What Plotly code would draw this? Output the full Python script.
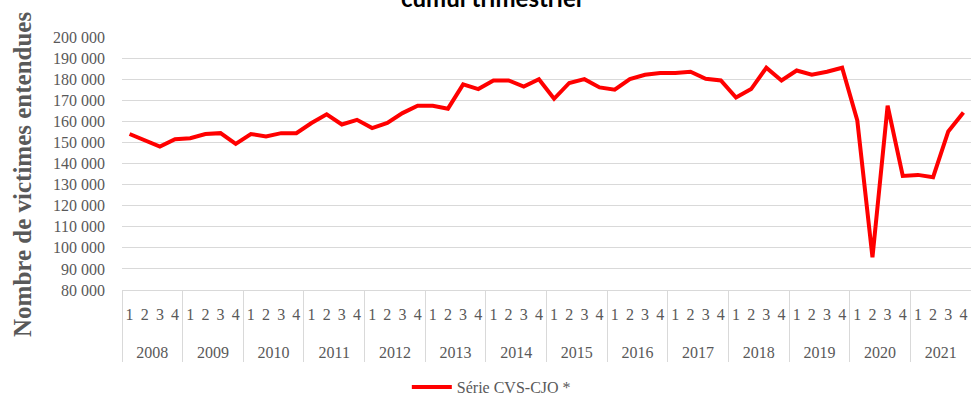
import plotly.graph_objects as go

years = [str(y) for y in range(2008, 2022)]
quarters = ["1", "2", "3", "4"]
values = [
    154000, 151000, 148000, 151500,   # 2008
    152000, 154000, 154400, 149300,   # 2009
    154000, 152800, 154400, 154400,   # 2010
    159200, 163300, 158500, 160700,   # 2011
    156800, 159200, 163900, 167400,   # 2012
    167400, 166000, 177500, 175300,   # 2013
    179400, 179400, 176500, 180000,   # 2014
    170700, 178200, 180000, 176100,   # 2015
    175000, 180000, 182100, 182900,   # 2016
    182900, 183500, 180200, 179400,   # 2017
    171300, 175300, 185400, 179400,   # 2018
    184100, 182100, 183500, 185400,   # 2019
    160400, 95500, 167400, 134100,    # 2020
    134600, 133500, 155200, 164200,   # 2021
]
series_name = "Série CVS-CJO *"
title_text = "cumul trimestriel"
y_title = "Nombre de victimes entendues"

# spacer spans only enlarge the first label row's box so the year row sits lower
pad = "<span style='font-size:22px'>\u00a0</span>"
x_years = ["<br>" + y for y in years for _ in quarters]
x_quarters = [pad + q + pad for _ in years for q in quarters]

serif = "Liberation Serif"
grey = "#595959"
grid = "#d9d9d9"

fig = go.Figure()
fig.add_trace(go.Scatter(
    x=[x_years, x_quarters],
    y=values,
    mode="lines",
    name=series_name,
    line=dict(color="#ff0000", width=4),
))

fig.update_layout(
    width=971, height=401,
    margin=dict(l=122, r=0, t=37, b=111),
    paper_bgcolor="white",
    plot_bgcolor="white",
    separators=", ",
    font=dict(family=serif, size=16, color=grey),
    title=dict(
        text=title_text,
        font=dict(family="Lato", size=24, color="#000000", weight="bold"),
        xref="container", x=0.506, xanchor="center",
        yref="container", y=1 - 7 / 401, yanchor="bottom",
    ),
    showlegend=True,
    legend=dict(
        orientation="h",
        xref="container", x=0.506, xanchor="center",
        yref="container", y=1 - 387 / 401, yanchor="middle",
        font=dict(family=serif, size=16, color=grey),
        itemwidth=40,
    ),
    annotations=[dict(
        text=y_title,
        textangle=-90,
        xref="paper", yref="paper",
        x=(22 - 122) / 849, y=(290 - 175) / 253,
        xanchor="center", yanchor="middle",
        showarrow=False,
        font=dict(family=serif, size=25, color=grey, weight="bold"),
    )],
)

fig.update_xaxes(
    type="multicategory",
    range=[-0.5, len(values) - 0.5],
    showgrid=False,
    showline=True, linecolor=grid, linewidth=1,
    showdividers=True, dividercolor=grid, dividerwidth=1,
    ticks="",
    dtick=1, tick0=0,
    tickangle=0,
    ticklabelstandoff=10,
    tickfont=dict(family=serif, size=16, color=grey),
)

fig.update_yaxes(
    range=[80000, 200000],
    dtick=10000,
    tickformat=",d",
    showgrid=True, gridcolor=grid, gridwidth=1,
    zeroline=False,
    showline=False,
    ticks="",
    ticklabelstandoff=16,
    tickfont=dict(family=serif, size=16, color=grey),
)

fig.write_html(
    "out.html",
    config={"displayModeBar": False},
    post_script="document.body.style.margin='0px';",
)
